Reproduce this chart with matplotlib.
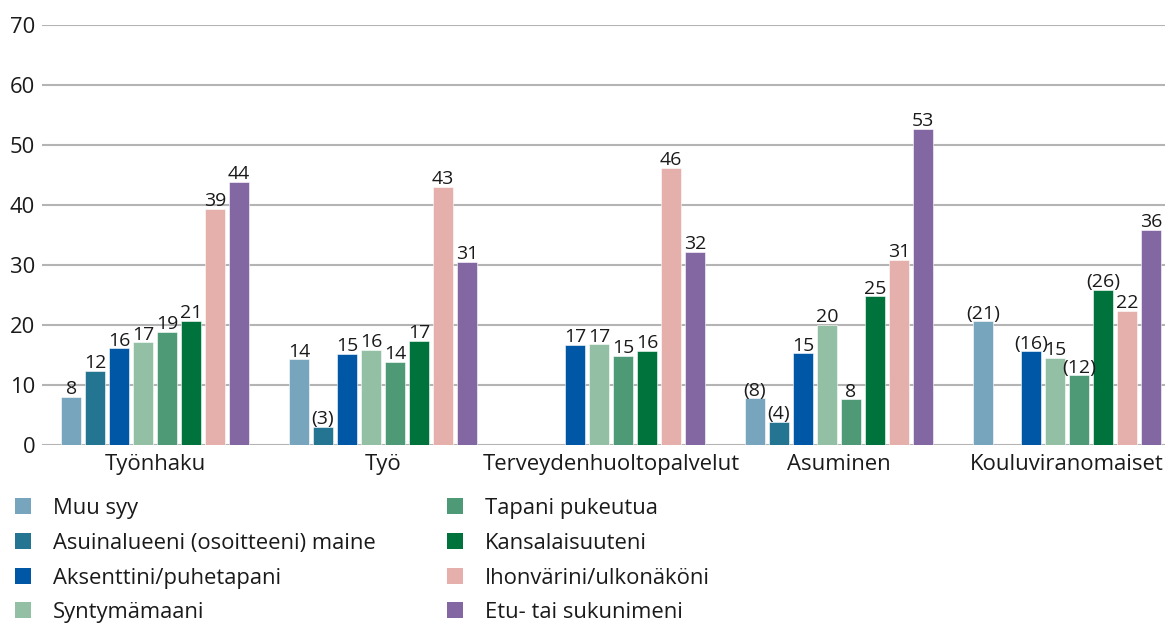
import numpy as np
import matplotlib
matplotlib.use("Agg")
import matplotlib.pyplot as plt
from matplotlib.patches import Rectangle

plt.rcParams["font.family"] = ["Open Sans", "DejaVu Sans"]

categories = ["Työnhaku", "Työ", "Terveydenhuoltopalvelut", "Asuminen", "Kouluviranomaiset"]
series = ["Muu syy", "Asuinalueeni (osoitteeni) maine", "Aksenttini/puhetapani", "Syntymämaani",
          "Tapani pukeutua", "Kansalaisuuteni", "Ihonvärini/ulkonäköni", "Etu- tai sukunimeni"]
colors = ["#76a5bd", "#237591", "#0057a5", "#93bfa4", "#4f9a76", "#00723c", "#e5b0ac", "#8267a2"]

nan = np.nan
muu_syy      = [8.0, 14.3, nan, 7.8, 20.6]
asuinalue    = [12.4, 3.05, nan, 3.9, nan]
aksentti     = [16.1, 15.2, 16.7, 15.3, 15.6]
syntymamaa   = [17.1, 15.9, 16.8, 20.0, 14.5]
pukeutuminen = [18.9, 13.9, 14.9, 7.6, 11.6]
kansalaisuus = [20.7, 17.4, 15.7, 24.8, 25.9]
ihonvari     = [39.4, 43.0, 46.2, 30.9, 22.4]
nimi         = [43.9, 30.5, 32.2, 52.7, 35.9]

lbl_muu_syy      = ["8", "14", "", "(8)", "(21)"]
lbl_asuinalue    = ["12", "(3)", "", "(4)", ""]
lbl_aksentti     = ["16", "15", "17", "15", "(16)"]
lbl_syntymamaa   = ["17", "16", "17", "20", "15"]
lbl_pukeutuminen = ["19", "14", "15", "8", "(12)"]
lbl_kansalaisuus = ["21", "17", "16", "25", "(26)"]
lbl_ihonvari     = ["39", "43", "46", "31", "22"]
lbl_nimi         = ["44", "31", "32", "53", "36"]

values = [muu_syy, asuinalue, aksentti, syntymamaa, pukeutuminen, kansalaisuus, ihonvari, nimi]
labels = [lbl_muu_syy, lbl_asuinalue, lbl_aksentti, lbl_syntymamaa, lbl_pukeutuminen,
          lbl_kansalaisuus, lbl_ihonvari, lbl_nimi]

W, H = 1168, 625
fig = plt.figure(figsize=(W / 100, H / 100), dpi=100)
ax = fig.add_axes([42 / W, 1 - 445 / H, (1165 - 42) / W, (445 - 25) / H])

TXT = "#1a1a1a"
x = np.arange(len(categories))
slot = 24 / 228
for i, (vals, lbls) in enumerate(zip(values, labels)):
    pos = x + (i - 3.5) * slot
    ax.bar(pos, vals, width=slot * 0.82, color=colors[i], zorder=3,
           edgecolor="white", linewidth=0.4)
    for p, v, t in zip(pos, vals, lbls):
        if t and not np.isnan(v):
            ax.annotate(t, (p, v), xytext=(0, -1), textcoords="offset points",
                        ha="center", va="bottom", fontsize=14, color=TXT, zorder=4)

ax.set_xlim(-0.496, 4.43)
ax.set_ylim(0, 70)
ax.set_yticks(range(0, 71, 10))
ax.yaxis.grid(True, color="#b4b4b4", linewidth=1.5, zorder=0)
ax.set_axisbelow(True)
for s in ax.spines.values():
    s.set_visible(False)
ax.tick_params(axis="y", length=0, pad=5, labelsize=15.8, labelcolor=TXT)
ax.set_xticks(x)
ax.set_xticklabels(categories)
ax.tick_params(axis="x", length=0, pad=6.5, labelsize=15.9, labelcolor=TXT)

# legend drawn in two columns of four rows
col_x = [15, 447]
text_dx = 38
row_y = [506, 541, 576, 610]
sq = 16
for i, (name, c) in enumerate(zip(series, colors)):
    col, row = divmod(i, 4)
    x0, yc = col_x[col], row_y[row]
    fig.patches.append(Rectangle((x0 / W, 1 - (yc + sq / 2) / H), sq / W, sq / H,
                                 transform=fig.transFigure, facecolor=c, edgecolor="none"))
    fig.text((x0 + text_dx) / W, 1 - yc / H, name, ha="left", va="center_baseline",
             fontsize=15.8, color=TXT)

fig.savefig("out.png", dpi=100)
